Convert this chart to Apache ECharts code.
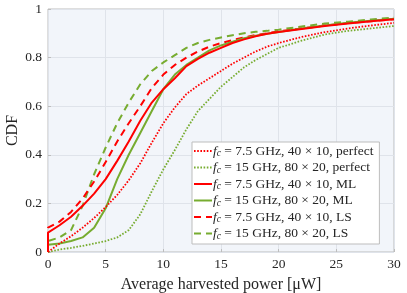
<!DOCTYPE html>
<html>
<head>
<meta charset="utf-8">
<script src="https://cdn.jsdelivr.net/npm/echarts@6/dist/echarts.min.js"></script>
<style>
html,body{margin:0;padding:0;background:#fff;}
#c{width:407px;height:293px;}
</style>
</head>
<body>
<div id="c"></div>
<script>
// x positions (µW); first two entries give the vertical jump at x = 0
const xs = [0, 0, 1, 2, 3, 4, 5, 6, 7, 8, 9, 10, 11, 12, 13, 14, 15, 16, 17, 18, 19, 20, 22, 24, 26, 28, 30];

const perfect75 = [0, 0, 0.035, 0.065, 0.10, 0.14, 0.185, 0.235, 0.295, 0.365, 0.45, 0.53, 0.595, 0.65, 0.685, 0.715, 0.745, 0.775, 0.80, 0.825, 0.845, 0.86, 0.885, 0.905, 0.92, 0.932, 0.943];
const perfect15 = [0, 0, 0.01, 0.017, 0.025, 0.035, 0.045, 0.06, 0.09, 0.155, 0.25, 0.34, 0.42, 0.505, 0.58, 0.63, 0.68, 0.72, 0.76, 0.79, 0.815, 0.84, 0.87, 0.895, 0.91, 0.92, 0.93];
const ml75 = [0, 0.08, 0.11, 0.145, 0.19, 0.24, 0.30, 0.375, 0.455, 0.54, 0.615, 0.67, 0.715, 0.765, 0.795, 0.82, 0.84, 0.86, 0.875, 0.888, 0.898, 0.905, 0.918, 0.93, 0.94, 0.95, 0.958];
const ml15 = [0, 0.03, 0.035, 0.045, 0.06, 0.10, 0.18, 0.30, 0.40, 0.49, 0.58, 0.67, 0.73, 0.77, 0.80, 0.83, 0.85, 0.865, 0.88, 0.89, 0.898, 0.905, 0.92, 0.932, 0.943, 0.952, 0.96];
const ls75 = [0, 0.10, 0.125, 0.165, 0.22, 0.29, 0.37, 0.455, 0.53, 0.60, 0.675, 0.73, 0.77, 0.80, 0.825, 0.845, 0.86, 0.872, 0.883, 0.893, 0.90, 0.908, 0.92, 0.932, 0.942, 0.95, 0.958];
const ls15 = [0, 0.045, 0.06, 0.09, 0.19, 0.32, 0.43, 0.53, 0.615, 0.69, 0.745, 0.78, 0.81, 0.84, 0.86, 0.873, 0.883, 0.892, 0.90, 0.906, 0.91, 0.915, 0.928, 0.94, 0.948, 0.957, 0.965];

const names = [
  '7.5 GHz, 40 × 10, perfect',
  '15 GHz, 80 × 20, perfect',
  '7.5 GHz, 40 × 10, ML',
  '15 GHz, 80 × 20, ML',
  '7.5 GHz, 40 × 10, LS',
  '15 GHz, 80 × 20, LS'
];
const values = [perfect75, perfect15, ml75, ml15, ls75, ls15];
const xTicks = [0, 5, 10, 15, 20, 25, 30];

const RED = '#ff0000', GREEN = '#77ac30';
const colors = [RED, GREEN, RED, GREEN, RED, GREEN];
const dash = [[1.6, 1.6], [1.6, 1.6], 'solid', 'solid', [7, 5], [7, 5]];
const widths = [1.8, 1.8, 2, 2, 2, 2];

const FONT = 'Liberation Serif';
const chart = echarts.init(document.getElementById('c'), null, {renderer: 'canvas'});
chart.setOption({
  animation: false,
  grid: {left: 48, right: 13, top: 9, bottom: 41, containLabel: false, outerBoundsMode: 'none',
         show: true, backgroundColor: '#f2f5fa', borderColor: '#bdbdbd', borderWidth: 1},
  xAxis: {
    type: 'value', min: xTicks[0], max: xTicks[xTicks.length - 1], interval: 5,
    name: 'Average harvested power [μW]', nameLocation: 'middle', nameGap: 25,
    nameTextStyle: {fontFamily: FONT, fontSize: 16, color: '#262626'},
    axisLine: {show: false},
    axisTick: {show: true, inside: true, length: 3, lineStyle: {color: '#bdbdbd'}},
    axisLabel: {fontFamily: FONT, fontSize: 13.5, color: '#262626', margin: 5},
    splitLine: {show: true, lineStyle: {color: '#dfe3ea', width: 1}}
  },
  yAxis: {
    type: 'value', min: 0, max: 1, interval: 0.2,
    name: 'CDF', nameLocation: 'middle', nameGap: 27, nameRotate: 90, nameMoveOverlap: false,
    nameTextStyle: {fontFamily: FONT, fontSize: 16, color: '#262626'},
    axisLine: {show: false},
    axisTick: {show: true, inside: true, length: 3, lineStyle: {color: '#bdbdbd'}},
    axisLabel: {fontFamily: FONT, fontSize: 13.5, color: '#262626', margin: 6},
    splitLine: {show: true, lineStyle: {color: '#dfe3ea', width: 1}}
  },
  legend: {
    orient: 'vertical', left: 192, top: 142, width: 201,
    backgroundColor: '#ffffff', borderColor: '#bdbdbd', borderWidth: 1,
    padding: [2, 6, 3, 1], itemGap: 2, itemWidth: 18, itemHeight: 13.5,
    itemStyle: {opacity: 0},
    data: names,
    formatter: n => '{i|f}{s|c}{t| = ' + n + '}',
    textStyle: {
      fontFamily: FONT, fontSize: 13.5, color: '#262626', padding: [0, 0, 0, -4],
      rich: {
        i: {fontFamily: FONT, fontStyle: 'italic', fontSize: 13.5, color: '#262626'},
        s: {fontFamily: FONT, fontStyle: 'italic', fontSize: 9.5, color: '#262626', padding: [5, 0, 0, 0]},
        t: {fontFamily: FONT, fontSize: 13.5, color: '#262626'}
      }
    }
  },
  series: names.map((n, k) => ({
    name: n, type: 'line', symbol: 'none', smooth: false,
    data: xs.map((x, i) => [x, values[k][i]]),
    lineStyle: {color: colors[k], width: widths[k], type: dash[k]},
    itemStyle: {color: colors[k]},
    z: 10 - k
  }))
});
</script>
</body>
</html>
